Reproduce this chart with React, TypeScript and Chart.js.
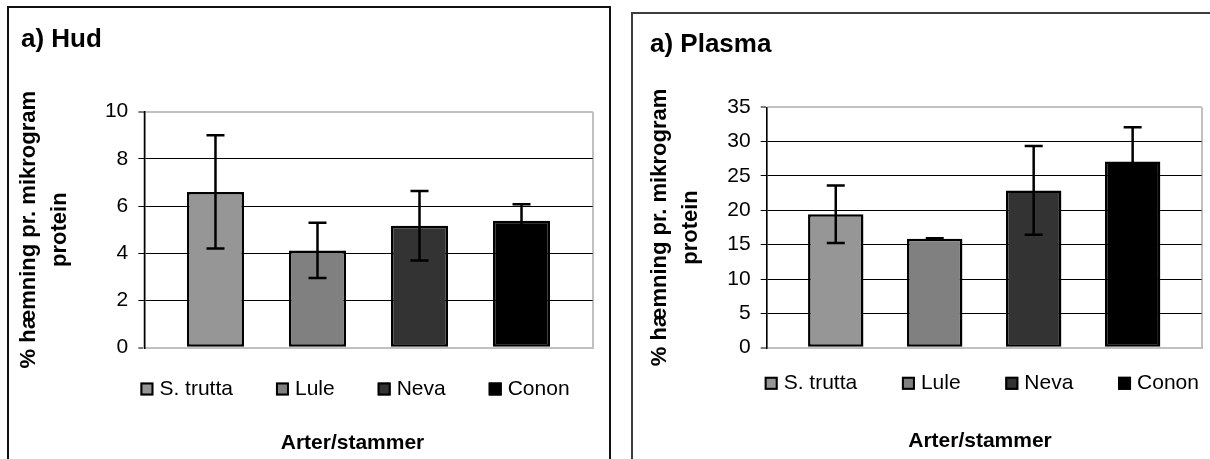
import { useEffect, useRef } from 'react';
import { Chart, registerables } from 'chart.js';

Chart.register(...registerables);

const FONT = '"Liberation Sans", Arial, Helvetica, sans-serif';
Chart.defaults.font.family = FONT;
Chart.defaults.color = '#000';

// Series shown in both panels (one bar each, inside a single category)
const seriesNames = ['S. trutta', 'Lule', 'Neva', 'Conon'];
const seriesColors = ['#969696', '#808080', '#333333', '#000000'];

// a) Hud
const hudValues = [6.6, 4.12, 5.17, 5.38];
const hudErrors = [2.4, 1.17, 1.47, 0.7];
const hudAxisMax = 10;
const hudAxisStep = 2;

// a) Plasma
const plasmaValues = [19.42, 15.85, 22.9, 27.1];
const plasmaErrors = [4.18, 0.1, 6.45, 5.0];
const plasmaAxisMax = 35;
const plasmaAxisStep = 5;

const yAxisTitle = ['% hæmning pr. mikrogram', 'protein'];
const xAxisTitle = 'Arter/stammer';

const GRID_EDGE = '#c0c0c0';

type Panel = {
  title: string;
  values: number[];
  errors: number[];
  max: number;
  step: number;
  width: number;
  height: number;
  padLeft: number;
  padRight: number;
  padBottom: number;
  yAxisWidth: number;
  titlePadTop: number;
  titlePadBottom: number;
  yTitlePad: number;
  legendCx: number;
  legendCy: number;
  legendGap: number;
  xTitleCx: number;
  xTitleCy: number;
};

const hudPanel: Panel = {
  title: 'a) Hud',
  values: hudValues,
  errors: hudErrors,
  max: hudAxisMax,
  step: hudAxisStep,
  width: 600,
  height: 452,
  padLeft: 12,
  padRight: 16.3,
  padBottom: 112.3,
  yAxisWidth: 123.3,
  titlePadTop: 16.4,
  titlePadBottom: 56.1,
  yTitlePad: -7,
  legendCx: 346,
  legendCy: 381,
  legendGap: 43,
  xTitleCx: 343.5,
  xTitleCy: 435,
};

const plasmaPanel: Panel = {
  title: 'a) Plasma',
  values: plasmaValues,
  errors: plasmaErrors,
  max: plasmaAxisMax,
  step: plasmaAxisStep,
  width: 577,
  height: 445,
  padLeft: 17,
  padRight: 8.3,
  padBottom: 111.3,
  yAxisWidth: 116.7,
  titlePadTop: 15.2,
  titlePadBottom: 46.9,
  yTitlePad: -5,
  legendCx: 348.8,
  legendCy: 369.3,
  legendGap: 44.7,
  xTitleCx: 347,
  xTitleCy: 427.7,
};

function BarPanel({ panel }: { panel: Panel }) {
  const ref = useRef<HTMLCanvasElement>(null);

  useEffect(() => {
    const canvas = ref.current;
    if (!canvas) return;

    // Symmetric error bars with caps, drawn over the bars
    const errorBars = {
      id: 'errorBars',
      afterDatasetsDraw(chart: any) {
        const { ctx } = chart;
        const yScale = chart.scales.y;
        ctx.save();
        ctx.strokeStyle = '#000';
        ctx.lineWidth = 2.5;
        panel.values.forEach((v, i) => {
          const bar = chart.getDatasetMeta(i).data[0];
          if (!bar) return;
          const x = bar.x;
          const e = panel.errors[i];
          const top = yScale.getPixelForValue(v + e);
          const bot = yScale.getPixelForValue(v - e);
          const cap = 9;
          ctx.beginPath();
          ctx.moveTo(x, top);
          ctx.lineTo(x, bot);
          ctx.moveTo(x - cap, top);
          ctx.lineTo(x + cap, top);
          ctx.moveTo(x - cap, bot);
          ctx.lineTo(x + cap, bot);
          ctx.stroke();
        });
        ctx.restore();
      },
    };

    // Series key under the plot, followed by the category axis title
    const seriesKey = {
      id: 'seriesKey',
      afterDraw(chart: any) {
        const { ctx } = chart;
        ctx.save();
        ctx.font = `21px ${FONT}`;
        ctx.textBaseline = 'middle';
        ctx.textAlign = 'left';
        const box = 13;
        const gap = 6;
        const items = chart.data.datasets.map((ds: any) => ({
          text: ds.label as string,
          color: ds.backgroundColor as string,
          w: ctx.measureText(ds.label).width,
        }));
        const total =
          items.reduce((s: number, it: any) => s + box + gap + it.w, 0) +
          panel.legendGap * (items.length - 1);
        let x = panel.legendCx - total / 2;
        const y = panel.legendCy;
        items.forEach((it: any) => {
          ctx.fillStyle = it.color;
          ctx.fillRect(x, y - box / 2, box, box);
          ctx.strokeStyle = '#000';
          ctx.lineWidth = 2;
          ctx.strokeRect(x + 1, y - box / 2 + 1, box - 2, box - 2);
          ctx.fillStyle = '#000';
          ctx.fillText(it.text, x + box + gap, y);
          x += box + gap + it.w + panel.legendGap;
        });
        ctx.font = `bold 21px ${FONT}`;
        ctx.textAlign = 'center';
        ctx.fillText(xAxisTitle, panel.xTitleCx, panel.xTitleCy);
        ctx.restore();
      },
    };

    const chart = new Chart(canvas, {
      type: 'bar',
      data: {
        labels: [''],
        datasets: seriesNames.map((name, i) => ({
          label: name,
          data: [panel.values[i]],
          backgroundColor: seriesColors[i],
          borderColor: '#000',
          borderWidth: 2.5,
          borderSkipped: false,
          categoryPercentage: 0.91,
          barPercentage: 0.56,
        })),
      },
      options: {
        responsive: false,
        maintainAspectRatio: false,
        animation: false,
        events: [],
        layout: {
          padding: {
            left: panel.padLeft,
            right: panel.padRight,
            top: 0,
            bottom: panel.padBottom,
          },
        },
        plugins: {
          legend: { display: false },
          tooltip: { enabled: false },
          title: {
            display: true,
            text: panel.title,
            align: 'start',
            color: '#000',
            font: { size: 26, weight: 'bold', family: FONT, lineHeight: 1.2 },
            padding: { top: panel.titlePadTop, bottom: panel.titlePadBottom },
          },
        },
        scales: {
          x: {
            ticks: { display: false },
            grid: {
              color: GRID_EDGE,
              lineWidth: 2,
              drawTicks: false,
              offset: true,
            },
            border: { color: GRID_EDGE, width: 2 },
            afterFit(scale: any) {
              scale.height = 0;
            },
          },
          y: {
            min: 0,
            max: panel.max,
            ticks: {
              stepSize: panel.step,
              color: '#000',
              padding: 10,
              font: { size: 21, family: FONT },
            },
            grid: {
              color: (c: any) =>
                c.tick && (c.tick.value === 0 || c.tick.value === panel.max) ? GRID_EDGE : '#000',
              lineWidth: (c: any) =>
                c.tick && (c.tick.value === 0 || c.tick.value === panel.max) ? 2 : 1,
              tickColor: '#000',
              tickWidth: 1,
              tickLength: 6,
            },
            border: { color: '#000', width: 1.5 },
            title: {
              display: true,
              text: yAxisTitle,
              color: '#000',
              font: { size: 22, weight: 'bold', family: FONT, lineHeight: 1.4 },
              padding: { top: panel.yTitlePad, bottom: 0 },
            },
            afterFit(scale: any) {
              scale.width = panel.yAxisWidth;
            },
          },
        },
      },
      plugins: [errorBars, seriesKey],
    } as any);

    return () => chart.destroy();
  }, [panel]);

  return (
    <canvas
      ref={ref}
      width={panel.width}
      height={panel.height}
      style={{ display: 'block', width: panel.width, height: panel.height }}
    />
  );
}

export default function App() {
  return (
    <div
      style={{
        position: 'absolute',
        left: 0,
        top: 0,
        width: 1210,
        height: 459,
        overflow: 'hidden',
        background: '#fff',
      }}
    >
      <div
        style={{
          position: 'absolute',
          left: 7,
          top: 6,
          width: 600,
          height: 470,
          border: '2px solid #111',
          overflow: 'hidden',
        }}
      >
        <BarPanel panel={hudPanel} />
      </div>
      <div
        style={{
          position: 'absolute',
          left: 631,
          top: 12,
          width: 600,
          height: 470,
          border: '2px solid #3c3c3c',
          overflow: 'hidden',
        }}
      >
        <BarPanel panel={plasmaPanel} />
      </div>
    </div>
  );
}
